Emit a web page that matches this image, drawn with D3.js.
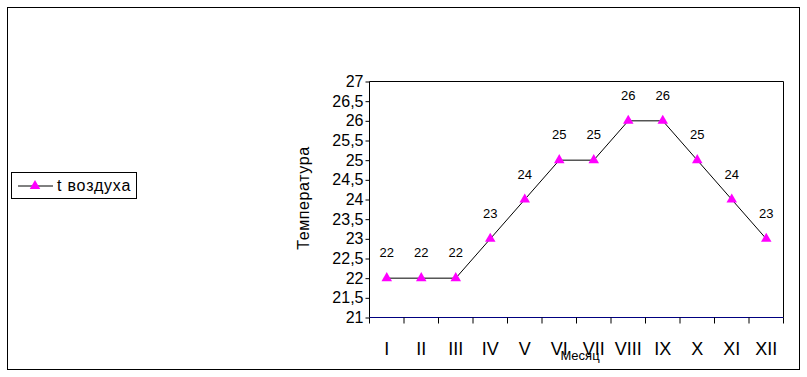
<!DOCTYPE html>
<html>
<head>
<meta charset="utf-8">
<script src="https://cdn.jsdelivr.net/npm/d3@7"></script>
<style>
  body { margin: 0; background: #fff; }
  svg { font-family: "Liberation Sans", Arial, sans-serif; }
</style>
</head>
<body>
<svg id="chart" width="807" height="377"></svg>
<script>
// data
const months = ["I", "II", "III", "IV", "V", "VI", "VII", "VIII", "IX", "X", "XI", "XII"];
const temps = [22, 22, 22, 23, 24, 25, 25, 26, 26, 25, 24, 23];
const yTicks = [21, 21.5, 22, 22.5, 23, 23.5, 24, 24.5, 25, 25.5, 26, 26.5, 27];
const seriesName = "t воздуха";

let svg = d3.select("#chart");

// outer frame
svg.append("rect")
  .attr("x", 7.5).attr("y", 7.5)
  .attr("width", 792).attr("height", 362)
  .attr("fill", "none").attr("stroke", "#000").attr("stroke-width", 1);

let margin = {left: 369.5, top: 81.5, right: 783.5, bottom: 317.5};

let x = d3.scaleBand().domain(months).range([margin.left, margin.right]);
let y = d3.scaleLinear().domain([21, 27]).range([margin.bottom, margin.top]);

// plot border (left, top, right black)
svg.append("path")
  .attr("d", `M${margin.left},${margin.bottom}V${margin.top}H${margin.right}V${margin.bottom}`)
  .attr("fill", "none").attr("stroke", "#000");

// y axis
let yAxis = svg.append("g")
  .attr("transform", `translate(${margin.left},0)`)
  .call(d3.axisLeft(y).tickValues(yTicks).tickSize(4).tickSizeOuter(0)
    .tickFormat(d => String(d).replace(".", ",")));
yAxis.select(".domain").remove();
yAxis.selectAll("line").attr("stroke", "#000");
yAxis.selectAll("text")
  .attr("x", -6)
  .style("font-size", "16px")
  .style("font-family", "Liberation Sans, Arial")
  .attr("fill", "#000");

// x axis - ticks at category boundaries
let xAxis = svg.append("g").attr("transform", `translate(0,${margin.bottom})`);
xAxis.append("line")
  .attr("x1", margin.left).attr("x2", margin.right)
  .attr("stroke", "#000080").attr("stroke-width", 1);
let bounds = months.map(m => x(m)).concat([x.range()[1]]);
xAxis.selectAll(".tk").data(bounds).enter().append("line")
  .attr("x1", d => d).attr("x2", d => d)
  .attr("y1", 0).attr("y2", 6)
  .attr("stroke", "#000");
xAxis.selectAll(".lbl").data(months).enter().append("text")
  .attr("x", d => x(d) + x.bandwidth() / 2)
  .attr("y", 37)
  .attr("text-anchor", "middle")
  .style("font-size", "18px")
  .attr("fill", "#000")
  .text(d => d);

// axis titles
svg.append("text")
  .attr("transform", "translate(309,198) rotate(-90)")
  .attr("text-anchor", "middle")
  .style("font-size", "16px")
  .style("letter-spacing", "0.6px")
  .text("Температура");

svg.append("text")
  .attr("x", 580).attr("y", 360)
  .attr("text-anchor", "middle")
  .style("font-size", "13px")
  .text("Месяц");

// line
let valueline = d3.line()
  .x((d, i) => x(months[i]) + x.bandwidth() / 2)
  .y(d => y(d));

svg.append("path")
  .datum(temps)
  .attr("d", valueline)
  .attr("fill", "none")
  .attr("stroke", "#000")
  .attr("stroke-width", 1);

let tri = d3.symbol().type(d3.symbolTriangle).size(48);

svg.selectAll(".pt").data(temps).enter().append("path")
  .attr("d", tri)
  .attr("transform", (d, i) => `translate(${x(months[i]) + x.bandwidth() / 2},${y(d)})`)
  .attr("fill", "#FF00FF");

// data labels
svg.selectAll(".dl").data(temps).enter().append("text")
  .attr("x", (d, i) => x(months[i]) + x.bandwidth() / 2)
  .attr("y", d => y(d) - 21)
  .attr("text-anchor", "middle")
  .style("font-size", "13px")
  .text(d => d);

// legend
let lg = svg.append("g");
lg.append("rect")
  .attr("x", 11.5).attr("y", 172.5)
  .attr("width", 125).attr("height", 26)
  .attr("fill", "#fff").attr("stroke", "#000");
lg.append("line")
  .attr("x1", 18).attr("x2", 53).attr("y1", 186).attr("y2", 186)
  .attr("stroke", "#000");
lg.append("path")
  .attr("d", tri)
  .attr("transform", "translate(35,186)")
  .attr("fill", "#FF00FF");
lg.append("text")
  .attr("x", 57).attr("y", 191)
  .style("font-size", "16px")
  .style("letter-spacing", "0.8px")
  .text(seriesName);
</script>
</body>
</html>
